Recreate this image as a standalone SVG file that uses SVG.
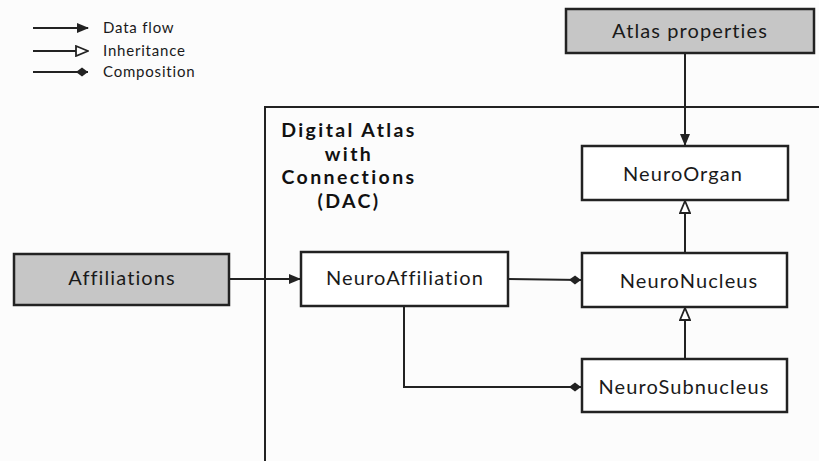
<svg xmlns="http://www.w3.org/2000/svg" width="819" height="461" viewBox="0 0 819 461">
  <style>
    .box { fill: #ffffff; stroke: #222; stroke-width: 2.5; }
    .ext { fill: #c6c6c6; stroke: #222; stroke-width: 2.5; }
    .lbl { font-family: Lato, "Liberation Sans", sans-serif; font-size: 20px; letter-spacing: 1.1px; fill: #1a1a1a; text-anchor: middle; }
    .leg { font-family: Lato, "Liberation Sans", sans-serif; font-size: 15px; letter-spacing: 0.8px; fill: #1a1a1a; }
    .ttl { font-family: Lato, "Liberation Sans", sans-serif; font-size: 19.5px; letter-spacing: 2.4px; font-weight: bold; fill: #111; text-anchor: middle; }
    .ln { fill: none; stroke: #222; stroke-width: 2; }
  </style>
  <defs>
    <marker id="flow" markerWidth="12" markerHeight="10" refX="11" refY="5" orient="auto" markerUnits="userSpaceOnUse">
      <path d="M0,0 L12,5 L0,10 Z" fill="#222"/>
    </marker>
    <marker id="inherit" markerWidth="14" markerHeight="12" refX="13" refY="6" orient="auto" markerUnits="userSpaceOnUse">
      <path d="M1,1 L13,6 L1,11 Z" fill="#fff" stroke="#222" stroke-width="1.8"/>
    </marker>
    <marker id="compose" markerWidth="14" markerHeight="10" refX="13" refY="5" orient="auto" markerUnits="userSpaceOnUse">
      <path d="M1,5 L7,0.5 L13,5 L7,9.5 Z" fill="#222"/>
    </marker>
  </defs>
  <rect width="819" height="461" fill="#fcfcfc"/>

  <!-- legend -->
  <g id="legend">
    <line class="ln" x1="33" y1="28" x2="88" y2="28" marker-end="url(#flow)"/>
    <line class="ln" x1="33" y1="51" x2="88" y2="51" marker-end="url(#inherit)"/>
    <line class="ln" x1="33" y1="72" x2="88" y2="72" marker-end="url(#compose)"/>
    <text class="leg" x="103" y="33">Data flow</text>
    <text class="leg" x="103" y="56">Inheritance</text>
    <text class="leg" x="103" y="77">Composition</text>
  </g>

  <!-- DAC frame -->
  <g id="dac">
    <path class="ln" d="M265,461 V107 H819"/>
    <text class="ttl" x="349" y="137">Digital Atlas</text>
    <text class="ttl" x="349" y="160.5">with</text>
    <text class="ttl" x="349" y="184">Connections</text>
    <text class="ttl" x="349" y="207.5">(DAC)</text>
  </g>

  <!-- connectors -->
  <g id="connectors">
    <line class="ln" x1="685" y1="54" x2="685" y2="145" marker-end="url(#flow)"/>
    <line class="ln" x1="229" y1="279" x2="300" y2="279" marker-end="url(#flow)"/>
    <line class="ln" x1="685" y1="252" x2="685" y2="201" marker-end="url(#inherit)"/>
    <line class="ln" x1="685" y1="358" x2="685" y2="308" marker-end="url(#inherit)"/>
    <line class="ln" x1="508" y1="279" x2="581" y2="280" marker-end="url(#compose)"/>
    <path class="ln" d="M404,306 V387 H581" marker-end="url(#compose)"/>
  </g>

  <g id="atlas-properties">
    <rect class="ext" x="566" y="9" width="248" height="44"/>
    <text class="lbl" x="690" y="38">Atlas properties</text>
  </g>
  <g id="affiliations">
    <rect class="ext" x="14" y="254" width="215" height="51"/>
    <text class="lbl" x="122" y="285">Affiliations</text>
  </g>
  <g id="neuro-organ">
    <rect class="box" x="582" y="146" width="206" height="54"/>
    <text class="lbl" x="683" y="181">NeuroOrgan</text>
  </g>
  <g id="neuro-affiliation">
    <rect class="box" x="301" y="252" width="207" height="54"/>
    <text class="lbl" x="405" y="285">NeuroAffiliation</text>
  </g>
  <g id="neuro-nucleus">
    <rect class="box" x="582" y="253" width="205" height="54"/>
    <text class="lbl" x="689" y="288">NeuroNucleus</text>
  </g>
  <g id="neuro-subnucleus">
    <rect class="box" x="582" y="359" width="205" height="53"/>
    <text class="lbl" x="684" y="394">NeuroSubnucleus</text>
  </g>
</svg>
